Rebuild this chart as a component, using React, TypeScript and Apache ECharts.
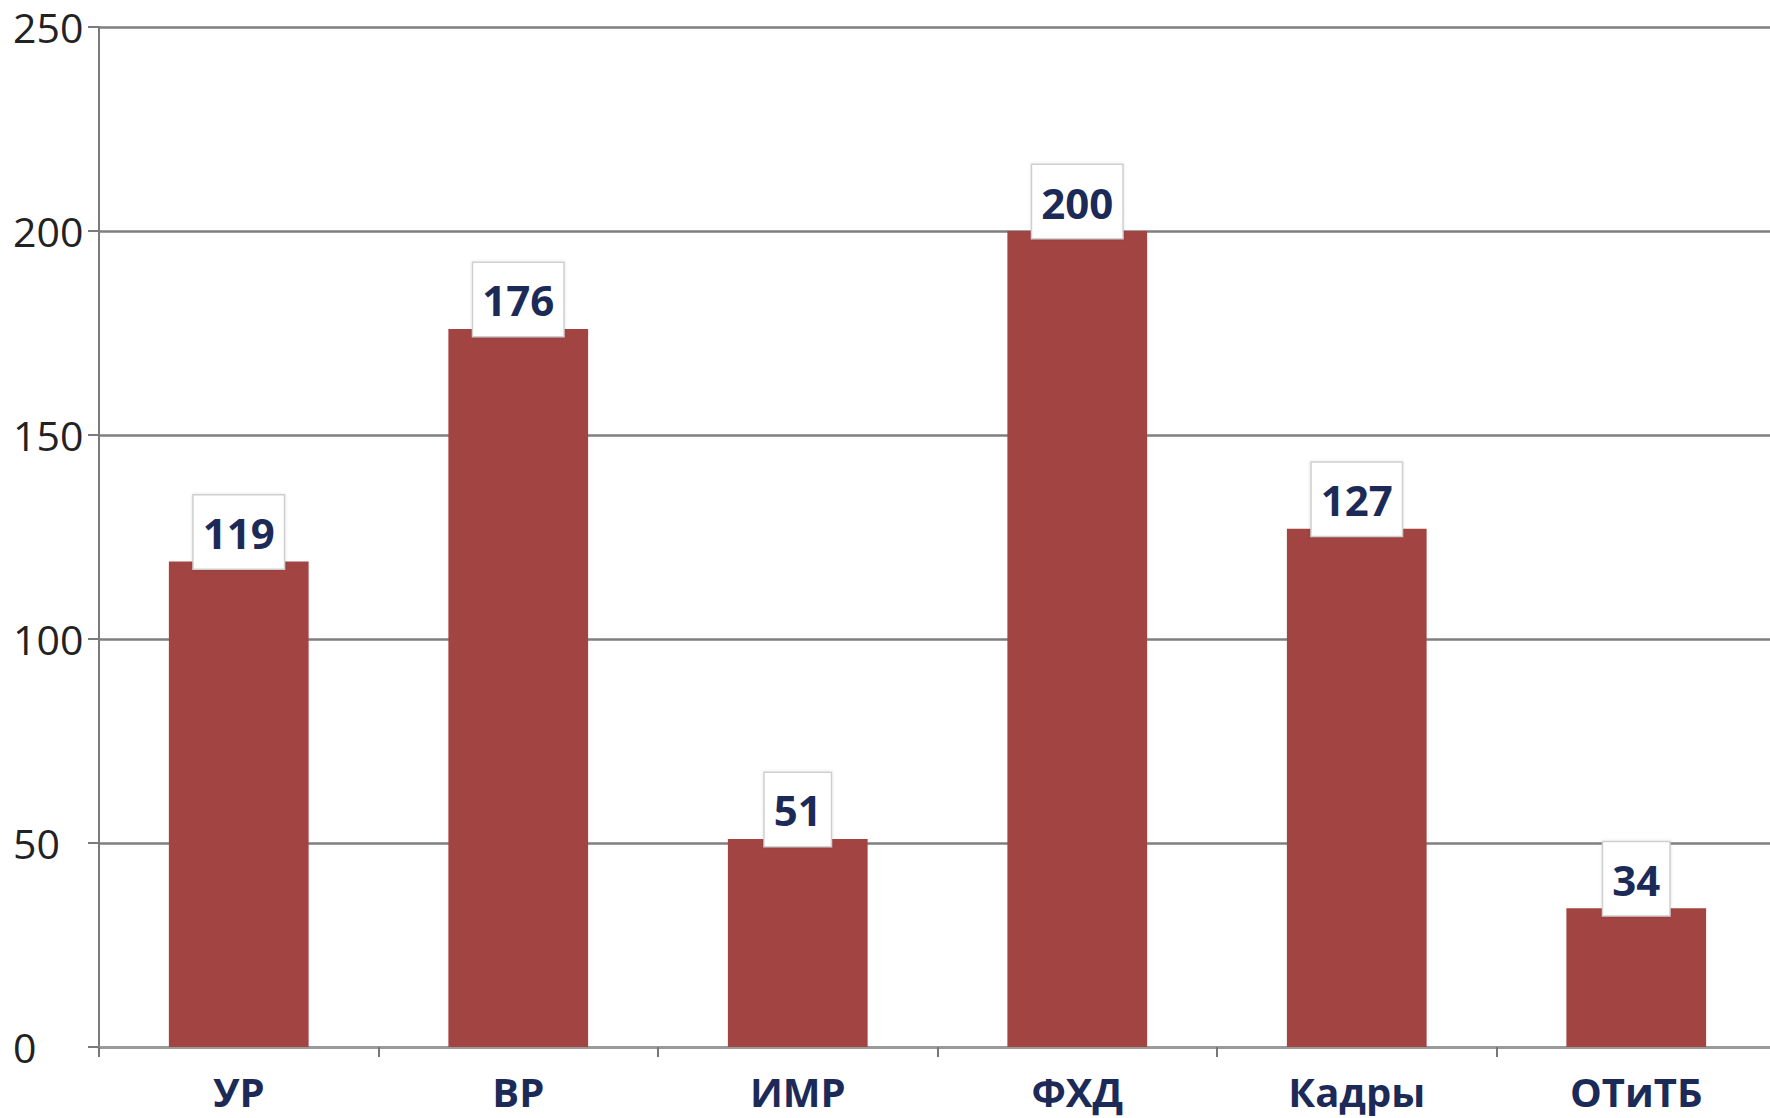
import React, { useEffect, useRef } from "react";
import * as echarts from "echarts";

const categories = ["УР", "ВР", "ИМР", "ФХД", "Кадры", "ОТиТБ"];
const values = [119, 176, 51, 200, 127, 34];
const yMin = 0;
const yMax = 250;
const yStep = 50;

export default function App() {
  const ref = useRef<HTMLDivElement>(null);
  useEffect(() => {
    document.body.style.overflow = "hidden";
    const chart = echarts.init(ref.current!, null, { renderer: "svg" });
    chart.setOption({
      animation: false,
      backgroundColor: "#ffffff",
      grid: { left: 99, right: 0, top: 27, bottom: 71, containLabel: false },
      xAxis: {
        type: "category",
        data: categories,
        axisLine: { show: true, lineStyle: { color: "#9a9a9a", width: 3 } },
        axisTick: { show: true, length: 10, lineStyle: { color: "#777777", width: 2 } },
        axisLabel: {
          fontFamily: "Open Sans",
          fontWeight: "bold",
          fontSize: 40,
          color: "#1c2a57",
          margin: 24,
        },
      },
      yAxis: {
        type: "value",
        min: yMin,
        max: yMax,
        interval: yStep,
        axisLine: { show: true, lineStyle: { color: "#7a7a7a", width: 2 } },
        axisTick: { show: true, length: 11, lineStyle: { color: "#7a7a7a", width: 2 } },
        splitLine: { show: true, lineStyle: { color: "#7f7f7f", width: 2.5 } },
        axisLabel: {
          align: "left",
          margin: 86,
          fontSize: 41,
          color: "#222222",
          fontFamily: "Open Sans",
        },
      },
      series: [
        {
          type: "bar",
          data: values,
          barWidth: "50%",
          itemStyle: { color: "#a24442" },
          label: {
            show: true,
            position: "top",
            distance: -7,
            backgroundColor: "#ffffff",
            borderColor: "#cfcfcf",
            borderWidth: 1.5,
            shadowBlur: 3,
            shadowColor: "rgba(0,0,0,0.12)",
            padding: [15, 9, 14, 9],
            fontSize: 42,
            lineHeight: 44,
            fontWeight: "bold",
            fontFamily: "Open Sans",
            color: "#1c2a57",
          },
        },
      ],
    });
    return () => chart.dispose();
  }, []);
  return (
    <div
      ref={ref}
      style={{ position: "fixed", left: 0, top: 0, width: 1776, height: 1118 }}
    />
  );
}
